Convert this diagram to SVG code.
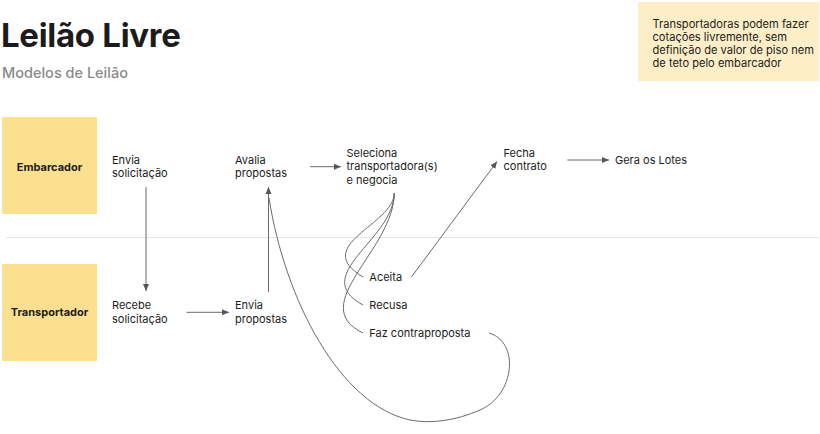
<svg xmlns="http://www.w3.org/2000/svg" width="820" height="434" viewBox="0 0 820 434">
<style>
text{font-family:Inter,"Noto Sans","Liberation Sans",sans-serif;fill:#1c1c1c}
.t{font-size:11px}
.n{font-size:11.1px}
.lane{fill:#fde08f}
.lbl{font-size:11px;font-weight:700;text-anchor:middle}
.c{fill:none;stroke:#6b6b72;stroke-width:1}
.a{fill:none;stroke:#6b6b72;stroke-width:1;marker-end:url(#ah)}
</style>
<defs>
<marker id="ah" markerWidth="8" markerHeight="8" refX="7" refY="4" orient="auto" markerUnits="userSpaceOnUse">
<path d="M0,1 L7,4 L0,7 Z" fill="#55555c"/>
</marker>
</defs>
<rect width="820" height="434" fill="#fff"/>
<line x1="6" y1="237.5" x2="818" y2="237.5" stroke="#e6e6e6" stroke-width="1"/>
<g id="title">
<text x="1" y="47" style="font-size:33px;font-weight:700;letter-spacing:-0.3px">Leilão Livre</text>
<text x="2" y="77.5" style="font-size:14.5px;fill:#8a8a8a;font-weight:500">Modelos de Leilão</text>
</g>
<g id="note">
<rect x="638" y="2" width="181" height="79" fill="#fdeec7"/>
<text class="n" x="652.5" y="28.3">Transportadoras podem fazer</text>
<text class="n" x="652.5" y="41.3">cotações livremente, sem</text>
<text class="n" x="652.5" y="54.3">definição de valor de piso nem</text>
<text class="n" x="652.5" y="67.3">de teto pelo embarcador</text>
</g>
<g id="lane-embarcador">
<rect class="lane" x="2" y="117" width="95" height="97"/>
<text class="lbl" x="49.5" y="170.5">Embarcador</text>
</g>
<g id="lane-transportador">
<rect class="lane" x="2" y="264" width="95" height="97"/>
<text class="lbl" x="49.5" y="315.5">Transportador</text>
</g>
<g id="envia-solicitacao">
<text class="t" x="112" y="163.8">Envia</text>
<text class="t" x="112" y="177.2">solicitação</text>
</g>
<g id="avalia-propostas">
<text class="t" x="235" y="163.8">Avalia</text>
<text class="t" x="235" y="177.2">propostas</text>
</g>
<g id="seleciona">
<text class="t" x="346.5" y="156.7">Seleciona</text>
<text class="t" x="346.5" y="170.4">transportadora(s)</text>
<text class="t" x="346.5" y="184">e negocia</text>
</g>
<g id="fecha-contrato">
<text class="t" x="503.5" y="156.7">Fecha</text>
<text class="t" x="503.5" y="170.4">contrato</text>
</g>
<g id="gera-lotes">
<text class="t" x="615" y="163.5">Gera os Lotes</text>
</g>
<g id="recebe-solicitacao">
<text class="t" x="112" y="309.3">Recebe</text>
<text class="t" x="112" y="323">solicitação</text>
</g>
<g id="envia-propostas">
<text class="t" x="235" y="309.3">Envia</text>
<text class="t" x="235" y="323">propostas</text>
</g>
<g id="aceita"><text class="t" x="369.3" y="281">Aceita</text></g>
<g id="recusa"><text class="t" x="369.3" y="309">Recusa</text></g>
<g id="faz-contraproposta"><text class="t" x="369.3" y="337">Faz contraproposta</text></g>
<g id="connectors">
<line class="a" x1="146" y1="187" x2="146" y2="291" style="stroke:#9a9a9f;stroke-width:1.5"/>
<line class="a" x1="186.5" y1="312.3" x2="229" y2="312.3"/>
<line class="a" x1="268.5" y1="292" x2="268.5" y2="187"/>
<line class="a" x1="310" y1="166.7" x2="341" y2="166.7"/>
<line class="a" x1="411.7" y1="276.7" x2="497" y2="161.5"/>
<line class="a" x1="567.3" y1="160" x2="609" y2="160"/>
<path class="c" d="M394.3,193 C394,225 310,245 363,277"/>
<path class="c" d="M394.3,193 C394,240 308,275 363,305"/>
<path class="c" d="M394.3,193 C394,250 305,305 363,333"/>
<path class="c" d="M489,333 C520,342 515,395 480,410 C455,421 430,424 410,420 C340,405 285,300 269,198"/>
</g>
</svg>
